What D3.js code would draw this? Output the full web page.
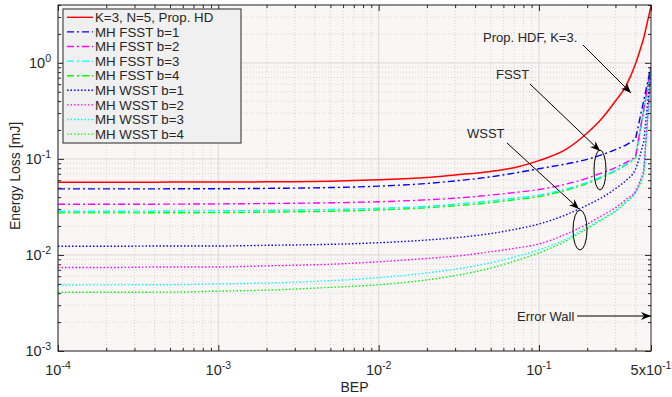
<!DOCTYPE html>
<html><head><meta charset="utf-8">
<script src="https://cdn.jsdelivr.net/npm/d3@7"></script>
<style>
body{margin:0;background:#fff}
text{font-family:"Liberation Sans",Arial,Helvetica,sans-serif;fill:#262626}
</style>
</head><body>
<svg id="c" width="672" height="397"></svg>
<script>
// ---------------- data ----------------
const bep = [1e-4, 2e-4, 5e-4, 1e-3, 2e-3, 5e-3, 1e-2, 2e-2, 3e-2, 5e-2, 7e-2, 0.1, 0.15, 0.2, 0.25, 0.3, 0.35, 0.4, 0.45, 0.5];
const seriesNames = ["K=3, N=5, Prop. HD", "MH FSST b=1", "MH FSST b=2", "MH FSST b=3", "MH FSST b=4",
                     "MH WSST b=1", "MH WSST b=2", "MH WSST b=3", "MH WSST b=4"];
const propHD  = [0.0572,0.0572,0.0573,0.0574,0.0577,0.0585,0.0605,0.064,0.068,0.074,0.081,0.096,0.128,0.186,0.27,0.40,0.58,0.97,1.8,3.9];
const fsst1   = [0.0487,0.0487,0.0488,0.0489,0.0493,0.0503,0.052,0.0555,0.059,0.065,0.071,0.079,0.089,0.099,0.111,0.125,0.14,0.16,null,0.92];
const fsst2   = [0.0337,0.0337,0.0338,0.034,0.0343,0.0349,0.0358,0.0375,0.039,0.042,0.0446,0.048,0.055,0.063,0.072,0.081,0.092,0.104,null,0.9];
const fsst3   = [0.0285,0.0285,0.0287,0.0288,0.0291,0.0297,0.0306,0.032,0.0338,0.0365,0.039,0.042,0.049,0.057,0.066,0.076,0.088,0.102,null,0.88];
const fsst4   = [0.0274,0.0274,0.0275,0.0276,0.0279,0.0285,0.0294,0.031,0.0325,0.035,0.0375,0.0405,0.0475,0.0555,0.065,0.075,0.087,0.101,null,0.86];
const wsst1   = [0.0123,0.0123,0.0124,0.0124,0.0126,0.0129,0.0134,0.0143,0.0151,0.0167,0.0184,0.021,0.0265,0.033,0.040,0.049,0.06,0.078,0.15,0.85];
const wsst2   = [0.0074,0.0074,0.0075,0.0075,0.0077,0.0080,0.0085,0.0092,0.0097,0.0108,0.0117,0.013,0.0167,0.021,0.026,0.031,0.038,0.046,0.075,0.8];
const wsst3   = [0.00487,0.00488,0.0049,0.0050,0.0051,0.0054,0.0058,0.0065,0.0071,0.0083,0.0095,0.0113,0.0148,0.0195,0.024,0.029,0.036,0.045,0.07,0.8];
const wsst4   = [0.00408,0.00409,0.0041,0.0042,0.0043,0.0046,0.0049,0.0055,0.0061,0.0073,0.0086,0.0105,0.0142,0.0188,0.0235,0.0285,0.0355,0.044,0.068,0.8];
const seriesValues = [propHD, fsst1, fsst2, fsst3, fsst4, wsst1, wsst2, wsst3, wsst4];
const seriesColors = ["#ff0000","#0000ff","#ff00ff","#00ffff","#00ff00","#0000ff","#ff00ff","#00ffff","#00ff00"];
const seriesDash = ["", "7,3,2,3", "7,3,2,3", "7,3,2,3", "7,3,2,3", "1.5,2", "1.5,2", "1.5,2", "1.5,2"];
const xMajorTicks = [1e-4, 1e-3, 1e-2, 1e-1, 0.5];
const xTickLabels = [["10","-4"],["10","-3"],["10","-2"],["10","-1"],["5x10","-1"]];
const yMajorTicks = [1e-3, 1e-2, 1e-1, 1];
const yTickLabels = [["10","-3"],["10","-2"],["10","-1"],["10","0"]];
const annotations = [
  {text:"Prop. HDF, K=3.", tx:483, ty:42, from:[583,45], to:[631,93]},
  {text:"FSST", tx:496, ty:79, from:[530,84], to:[600,151]},
  {text:"WSST", tx:467, ty:138, from:[507,143], to:[579,209]},
];

// ---------------- layout ----------------
const svg = d3.select("#c");
const L = 58, R = 651, T = 5, B = 351;
const x = d3.scaleLog().domain([1e-4, 0.5]).range([L, R]);
const y = d3.scaleLog().domain([1e-3, 4]).range([B, T]);

svg.append("rect").attr("x",L).attr("y",T).attr("width",R-L).attr("height",B-T).attr("fill","#f9f6f5");

const xMinor = [];
for (let e=-4; e<=-1; e++) for (let m=2; m<=9; m++) { const v=m*Math.pow(10,e); if (v<0.5-1e-9) xMinor.push(v); }
const yMinor = [];
for (let e=-3; e<=0; e++) for (let m=2; m<=9; m++) { const v=m*Math.pow(10,e); if (v<=4) yMinor.push(v); }

// grid
const g = svg.append("g");
g.selectAll(".gxm").data(xMinor).join("line").attr("x1",d=>x(d)).attr("x2",d=>x(d)).attr("y1",T).attr("y2",B)
  .attr("stroke","#d4d4d4").attr("stroke-width",1).attr("stroke-dasharray","1,2");
g.selectAll(".gym").data(yMinor).join("line").attr("y1",d=>y(d)).attr("y2",d=>y(d)).attr("x1",L).attr("x2",R)
  .attr("stroke","#d4d4d4").attr("stroke-width",1).attr("stroke-dasharray","1,2");
g.selectAll(".gxM").data(xMajorTicks.slice(0,4)).join("line").attr("x1",d=>x(d)).attr("x2",d=>x(d)).attr("y1",T).attr("y2",B)
  .attr("stroke","#dedede").attr("stroke-width",1.2);
g.selectAll(".gyM").data(yMajorTicks).join("line").attr("y1",d=>y(d)).attr("y2",d=>y(d)).attr("x1",L).attr("x2",R)
  .attr("stroke","#dedede").attr("stroke-width",1.2);

// series: smooth monotone curve up to the second-last point, straight final segment
svg.append("clipPath").attr("id","clip").append("rect").attr("x",L).attr("y",T).attr("width",R-L).attr("height",B-T);
const smooth = d3.line().x(d=>x(d[0])).y(d=>y(d[1])).curve(d3.curveMonotoneX);
const lines = svg.append("g").attr("clip-path","url(#clip)");
const order = [8,7,6,5,4,3,2,1,0];
order.forEach(i=>{
  const pts = bep.map((b,j)=>[b, seriesValues[i][j]]).filter(d=>d[1]!=null);
  const last = pts[pts.length-1];
  const d = smooth(pts.slice(0,-1)) + `L${x(last[0])},${y(last[1])}`;
  lines.append("path").attr("d", d).attr("fill","none")
    .attr("stroke", seriesColors[i]).attr("stroke-width", i===0?1.5:1.4)
    .attr("stroke-dasharray", seriesDash[i]);
});

// axes (ticks inward)
const ax = svg.append("g");
function addAxis(axisFn, scale, vals, size, transform){
  ax.append("g").attr("transform",transform)
    .call(axisFn(scale).tickValues(vals).tickSize(size).tickFormat(""))
    .call(s=>s.select(".domain").remove())
    .selectAll("line").attr("stroke","#262626");
}
addAxis(d3.axisBottom, x, xMajorTicks, -6, `translate(0,${B})`);
addAxis(d3.axisBottom, x, xMinor, -3, `translate(0,${B})`);
addAxis(d3.axisTop, x, xMajorTicks, -6, `translate(0,${T})`);
addAxis(d3.axisTop, x, xMinor, -3, `translate(0,${T})`);
addAxis(d3.axisLeft, y, yMajorTicks, -6, `translate(${L},0)`);
addAxis(d3.axisLeft, y, yMinor, -3, `translate(${L},0)`);
addAxis(d3.axisRight, y, yMajorTicks, -6, `translate(${R},0)`);
addAxis(d3.axisRight, y, yMinor, -3, `translate(${R},0)`);
svg.append("rect").attr("x",L).attr("y",T).attr("width",R-L).attr("height",B-T)
  .attr("fill","none").attr("stroke","#262626").attr("stroke-width",1);

// tick labels
xMajorTicks.forEach((v,i)=>{
  const t = svg.append("text").attr("x", x(v)).attr("y", 375).attr("text-anchor","middle").style("font-size","14.5px");
  t.append("tspan").text(xTickLabels[i][0]);
  t.append("tspan").attr("dy",-6).style("font-size","10.5px").text(xTickLabels[i][1]);
});
yMajorTicks.forEach((v,i)=>{
  const t = svg.append("text").attr("x", 51).attr("y", y(v)+5).attr("text-anchor","end").style("font-size","14.5px");
  t.append("tspan").text(yTickLabels[i][0]);
  t.append("tspan").attr("dy",-6).style("font-size","10.5px").text(yTickLabels[i][1]);
});

// axis titles
svg.append("text").attr("x",(L+R)/2).attr("y",392).attr("text-anchor","middle").style("font-size","14px").text("BEP");
svg.append("text").attr("transform","translate(20,176) rotate(-90)").attr("text-anchor","middle").style("font-size","14px").text("Energy Loss [mJ]");

// annotations
const defs = svg.append("defs");
defs.append("marker").attr("id","arr").attr("viewBox","0 0 10 10").attr("refX",10).attr("refY",5)
  .attr("markerWidth",10).attr("markerHeight",10).attr("markerUnits","userSpaceOnUse").attr("orient","auto")
  .append("path").attr("d","M0,1 L10,5 L0,9 L3,5 Z").attr("fill","#000");
annotations.forEach(a=>{
  svg.append("text").attr("x",a.tx).attr("y",a.ty).style("font-size","13px").attr("fill","#000").text(a.text);
  svg.append("line").attr("x1",a.from[0]).attr("y1",a.from[1]).attr("x2",a.to[0]).attr("y2",a.to[1])
    .attr("stroke","#000").attr("stroke-width",1).attr("marker-end","url(#arr)");
});
svg.append("ellipse").attr("cx",600).attr("cy",170).attr("rx",6).attr("ry",20).attr("fill","none").attr("stroke","#000").attr("stroke-width",1);
svg.append("ellipse").attr("cx",580).attr("cy",230).attr("rx",7).attr("ry",20).attr("fill","none").attr("stroke","#000").attr("stroke-width",1);
svg.append("text").attr("x",517).attr("y",321).style("font-size","13px").attr("fill","#000").text("Error Wall");
svg.append("line").attr("x1",577).attr("y1",316).attr("x2",R).attr("y2",316)
  .attr("stroke","#000").attr("stroke-width",1).attr("marker-end","url(#arr)");

// legend
const lg = svg.append("g");
lg.append("rect").attr("x",63).attr("y",9).attr("width",178).attr("height",134)
  .attr("fill","#f0f0f0").attr("stroke","#262626").attr("stroke-width",1);
seriesNames.forEach((n,i)=>{
  const yy = 17.3 + i*14.6;
  lg.append("line").attr("x1",67).attr("x2",93).attr("y1",yy).attr("y2",yy)
    .attr("stroke",seriesColors[i]).attr("stroke-width",1.4).attr("stroke-dasharray",seriesDash[i]);
  lg.append("text").attr("x",95).attr("y",yy+4.7).style("font-size","13.3px").attr("fill","#000").text(n);
});
</script>
</body></html>
